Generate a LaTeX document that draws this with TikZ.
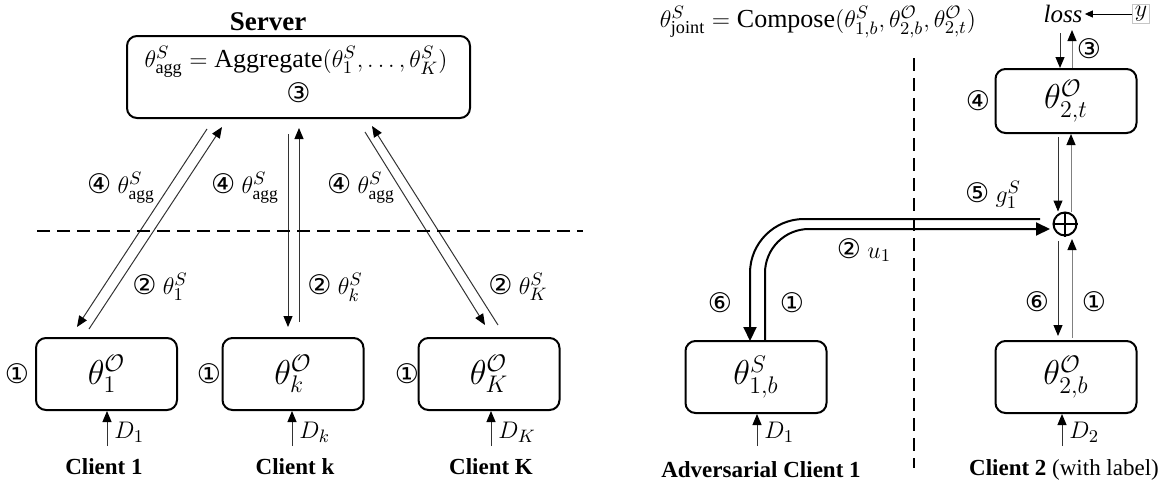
\documentclass[tikz,border=0pt]{standalone}
\usepackage{fontspec}
\setmainfont{Liberation Serif}[BoldFont={Liberation Serif Bold},ItalicFont={Liberation Serif Italic},BoldItalicFont={Liberation Serif Bold Italic}]
\newfontfamily\cfont{DejaVu Sans}
\usetikzlibrary{arrows.meta}
\newcommand\ci{\cfont\fontsize{13.5}{14}\selectfont}
\begin{document}
\begin{tikzpicture}[x=0.5pt,y=-0.5pt,
  box/.style={draw, line width=1pt, rounded corners=5pt, inner sep=0pt,
    minimum width=70.5pt, minimum height=36pt, font=\fontsize{17}{20}\selectfont},
  lbl/.style={font=\fontsize{12.5}{14}\selectfont, inner sep=1pt},
  num/.style={font=\ci, inner sep=0pt},
  ttl/.style={font=\fontsize{11.5}{13}\selectfont\bfseries, inner sep=0pt},
  tarrow/.style={line width=0.5pt, draw=black!80, -{Triangle[length=5.5pt,width=4.5pt,color=black]}},
  uparrow/.style={tarrow, draw=black!50},
  fat/.style={line width=1pt, -{Triangle[length=7pt,width=6.5pt]}},
  sep/.style={line width=1pt, dash pattern=on 6.5pt off 3.5pt}]
\useasboundingbox (0,0) rectangle (1167,487);

% ---------------- left panel ----------------
\node[ttl, font=\fontsize{13.5}{15}\selectfont\bfseries] (server) at (268,22) {Server};
\node[draw, line width=1pt, rounded corners=5pt, minimum width=171.5pt,
      minimum height=41pt, inner sep=0pt] (sbox) at (298.5,77) {};
\node[lbl, font=\fontsize{13}{15}\selectfont] (sform) at (296,62)
  {$\theta^{S}_{\mathrm{agg}} = \mathrm{Aggregate}\bigl(\theta^{S}_{1},\dots,\theta^{S}_{K}\bigr)$};
\node[num] (sstep) at (298.5,93) {③};

\node[box] (c1) at (106.5,374) {$\theta^{\mathcal{O}}_{1}$};
\node[box] (ck) at (293,374) {$\theta^{\mathcal{O}}_{k}$};
\node[box] (cK) at (489,374) {$\theta^{\mathcal{O}}_{K}$};

% server <-> client 1
\draw[tarrow] ([shift={(-91.5,10)}]sbox.south) -- ([shift={(-29.5,-10)}]c1.north);
\draw[tarrow] ([shift={(-17.5,-8)}]c1.north) -- ([shift={(-76.5,8)}]sbox.south);
% server <-> client k
\draw[tarrow] ([shift={(-10.5,15)}]sbox.south) -- ([shift={(-5,-10)}]ck.north);
\draw[tarrow] ([shift={(6,-15)}]ck.north) -- ([shift={(0.5,9)}]sbox.south);
% server <-> client K
\draw[tarrow] ([shift={(66.5,13)}]sbox.south) -- ([shift={(-4,-12)}]cK.north);
\draw[tarrow] ([shift={(9,-12)}]cK.north) -- ([shift={(73.5,7)}]sbox.south);

\node[lbl] (l4a) at (121,188) {{\ci ④} $\theta^{S}_{\mathrm{agg}}$};
\node[lbl] (l4b) at (245,188) {{\ci ④} $\theta^{S}_{\mathrm{agg}}$};
\node[lbl] (l4c) at (361,188) {{\ci ④} $\theta^{S}_{\mathrm{agg}}$};
\node[lbl] (l2a) at (160,287) {{\ci ②} $\theta^{S}_{1}$};
\node[lbl] (l2b) at (335,287) {{\ci ②} $\theta^{S}_{k}$};
\node[lbl] (l2c) at (518,287) {{\ci ②} $\theta^{S}_{K}$};
\node[num] (n1a) at (17,374) {①};
\node[num] (n1b) at (209,374) {①};
\node[num] (n1c) at (407,374) {①};

\coordinate (sepl) at (37,231);
\coordinate (sepr) at (583,231);
\draw[sep] (sepl) -- (sepr);

\coordinate (d1) at (107,446);
\coordinate (dk) at (292,446);
\coordinate (dK) at (491,446);
\draw[tarrow] (d1) -- (d1 |- c1.south);
\draw[tarrow] (dk) -- (dk |- ck.south);
\draw[tarrow] (dK) -- (dK |- cK.south);
\node[lbl, anchor=west] (d1l) at (112,432) {$D_{1}$};
\node[lbl, anchor=west] (dkl) at (297,432) {$D_{k}$};
\node[lbl, anchor=west] (dKl) at (496,432) {$D_{K}$};

\node[ttl] (cl1) at (104,467) {Client 1};
\node[ttl] (clk) at (295,467) {Client k};
\node[ttl] (clK) at (491,467) {Client K};

% ---------------- right panel ----------------
\node[lbl, font=\fontsize{13}{15}\selectfont] (compose) at (818,22)
  {$\theta^{S}_{\mathrm{joint}} = \mathrm{Compose}\bigl(\theta^{S}_{1,b},\theta^{\mathcal{O}}_{2,b},\theta^{\mathcal{O}}_{2,t}\bigr)$};
\node[lbl] (loss) at (1063,14) {\textit{loss}};
\node[draw=gray!45, line width=0.4pt, inner sep=1pt, font=\fontsize{12.5}{14}\selectfont] (ylab) at (1141,14) {$y$};
\draw[line width=0.5pt, -{Triangle[length=4pt,width=3.5pt]}] (ylab.west) -- (loss.east);

\node[box, minimum height=32pt] (t2) at (1066,101) {$\theta^{\mathcal{O}}_{2,t}$};
\node[num] (n4) at (978,101) {④};
\node[num] (n3) at (1089,49) {③};
\coordinate (ld) at (1060,33);
\coordinate (lu) at (1072,30);
\draw[tarrow] (ld) -- (ld |- t2.north);
\draw[uparrow] (lu |- t2.north) -- (lu);

\node[circle, draw, line width=1pt, minimum size=11.5pt, inner sep=0pt] (plus) at (1065,224) {};
\draw[line width=1pt] (plus.north) -- (plus.south);
\draw[line width=1pt] (plus.west) -- (plus.east);

\coordinate (a1) at (1058,137);
\coordinate (a2) at (1071,212);
\draw[tarrow] (a1) -- (a1 |- plus.north);
\draw[uparrow] (a2) -- (a2 |- t2.south);

\node[box] (b2) at (1066,377) {$\theta^{\mathcal{O}}_{2,b}$};
\node[box] (b1) at (756,377) {$\theta^{S}_{1,b}$};

\coordinate (a3) at (1058,241);
\coordinate (a3e) at (1058,336);
\coordinate (a4) at (1072,338);
\coordinate (a4e) at (1072,239);
\draw[tarrow] (a3) -- (a3e);
\draw[uparrow] (a4) -- (a4e);

\coordinate (gs) at (1040,219);
\coordinate (ge) at (750,341);
\coordinate (us) at (765,341);
\coordinate (ue) at (1050,229);
\draw[fat, rounded corners=27pt] (gs) -| (ge);
\draw[fat, rounded corners=22pt] (us) |- (ue);

\node[lbl] (l5) at (993,195) {{\ci ⑤} $g^{S}_{1}$};
\node[lbl] (lu1) at (864,250) {{\ci ②} $u_{1}$};
\node[num] (n6a) at (720,303) {⑥};
\node[num] (n1d) at (792,303) {①};
\node[num] (n6b) at (1037,302) {⑥};
\node[num] (n1e) at (1094,302) {①};

\coordinate (d3) at (757,446);
\coordinate (d4) at (1062,446);
\draw[tarrow] (d3) -- (d3 |- b1.south);
\draw[tarrow] (d4) -- (d4 |- b2.south);
\node[lbl, anchor=west] (d3l) at (762,432) {$D_{1}$};
\node[lbl, anchor=west] (d4l) at (1067,432) {$D_{2}$};

\coordinate (vt) at (914,58);
\coordinate (vb) at (914,468);
\draw[sep] (vt) -- (vb);

\node[ttl] (adv) at (761,470) {Adversarial Client 1};
\node[font=\fontsize{11.5}{13}\selectfont, inner sep=0pt] (c2l) at (1064,470) {\textbf{Client 2} (with label)};
\end{tikzpicture}
\end{document}
